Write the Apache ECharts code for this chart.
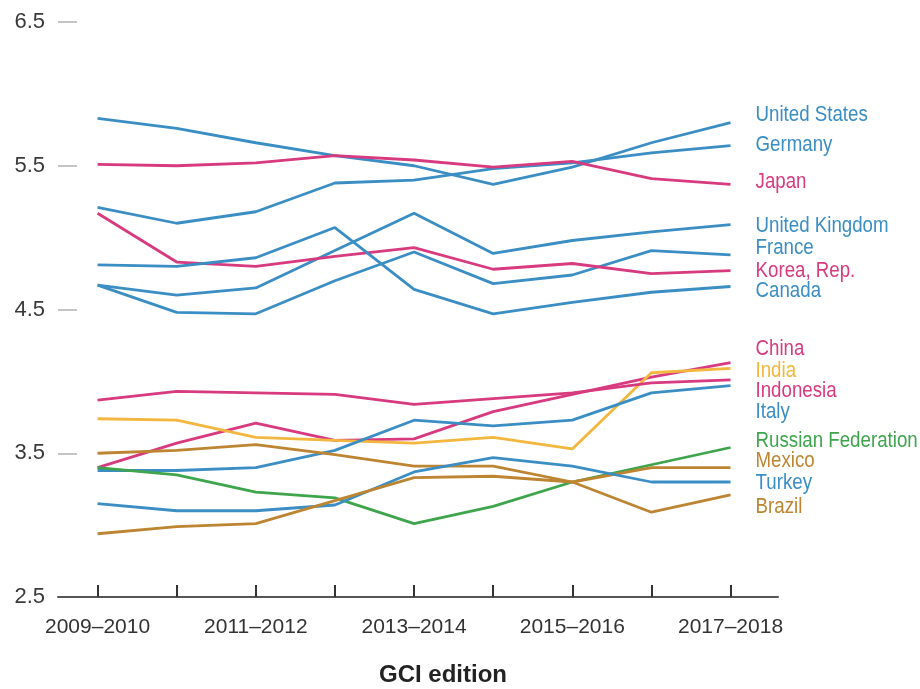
<!DOCTYPE html>
<html>
<head>
<meta charset="utf-8">
<script src="https://cdn.jsdelivr.net/npm/echarts@6/dist/echarts.min.js"></script>
<style>html,body{margin:0;padding:0;background:#fff}#c{width:920px;height:689px}</style>
</head>
<body>
<div id="c"></div>
<script>
// GCI editions (x categories)
const editions = ['2009–2010','2010–2011','2011–2012','2012–2013','2013–2014','2014–2015','2015–2016','2016–2017','2017–2018'];
const yTicks = [2.5, 3.5, 4.5, 5.5, 6.5];
const labeledEditions = [0, 2, 4, 6, 8];

// series values
const unitedStates  = [5.83, 5.76, 5.66, 5.57, 5.50, 5.37, 5.49, 5.66, 5.80];
const germany       = [5.21, 5.10, 5.18, 5.38, 5.40, 5.48, 5.52, 5.59, 5.64];
const japan         = [5.51, 5.50, 5.52, 5.57, 5.54, 5.49, 5.53, 5.41, 5.37];
const unitedKingdom = [4.67, 4.60, 4.65, 4.91, 5.17, 4.89, 4.98, 5.04, 5.09];
const france        = [4.67, 4.48, 4.47, 4.70, 4.90, 4.68, 4.74, 4.91, 4.88];
const korea         = [5.17, 4.83, 4.80, 4.87, 4.93, 4.78, 4.82, 4.75, 4.77];
const canada        = [4.81, 4.80, 4.86, 5.07, 4.64, 4.47, 4.55, 4.62, 4.66];
const china         = [3.40, 3.57, 3.71, 3.59, 3.60, 3.79, 3.91, 4.03, 4.13];
const india         = [3.74, 3.73, 3.61, 3.59, 3.57, 3.61, 3.53, 4.06, 4.09];
const indonesia     = [3.87, 3.93, 3.92, 3.91, 3.84, 3.88, 3.92, 3.99, 4.01];
const italy         = [3.38, 3.38, 3.40, 3.52, 3.73, 3.69, 3.73, 3.92, 3.97];
const russia        = [3.40, 3.35, 3.23, 3.19, 3.01, 3.13, 3.30, 3.42, 3.54];
const mexico        = [3.50, 3.52, 3.56, 3.49, 3.41, 3.41, 3.30, 3.40, 3.40];
const turkey        = [3.15, 3.10, 3.10, 3.14, 3.37, 3.47, 3.41, 3.30, 3.30];
const brazil        = [2.94, 2.99, 3.01, 3.17, 3.33, 3.34, 3.30, 3.09, 3.21];

const BLUE = '#3a8ec4', PINK = '#d83a80', YELLOW = '#f3b63e', GREEN = '#3ea54c', BROWN = '#bd8532';
const FONT = '"Liberation Sans", Arial, sans-serif';

// [name, values, color, label vertical offset (px)]
const seriesDefs = [
  ['United States', unitedStates, BLUE, -8],
  ['Germany', germany, BLUE, -1],
  ['Japan', japan, PINK, -3],
  ['United Kingdom', unitedKingdom, BLUE, 1],
  ['France', france, BLUE, -7],
  ['Korea, Rep.', korea, PINK, 0],
  ['Canada', canada, BLUE, 4],
  ['China', china, PINK, -14],
  ['India', india, YELLOW, 2],
  ['Indonesia', indonesia, PINK, 11],
  ['Italy', italy, BLUE, 26],
  ['Russian Federation', russia, GREEN, -7],
  ['Mexico', mexico, BROWN, -7],
  ['Turkey', turkey, BLUE, 1],
  ['Brazil', brazil, BROWN, 12]
];

const chart = echarts.init(document.getElementById('c'), null, {renderer: 'canvas'});
chart.setOption({
  animation: false,
  backgroundColor: '#fff',
  grid: {left: 58, right: 142, top: 22, bottom: 92, containLabel: false, outerBoundsMode: 'none'},
  xAxis: {
    type: 'value', min: -0.5, max: 8.6,
    splitLine: {show: false},
    axisLine: {show: true, onZero: false, lineStyle: {color: '#555', width: 2}},
    axisTick: {show: true, inside: true, length: 12, lineStyle: {color: '#333', width: 2}, customValues: editions.map((e, i) => i)},
    axisLabel: {
      customValues: labeledEditions, margin: 20,
      formatter: v => editions[Math.round(v)] || '',
      fontFamily: FONT, fontSize: 21, color: '#333'
    },
    name: 'GCI edition', nameLocation: 'middle', nameGap: 66,
    nameTextStyle: {fontFamily: FONT, fontSize: 24, fontWeight: 'bold', color: '#222', padding: [0, 0, 0, 50]}
  },
  yAxis: {
    type: 'value', min: 2.5, max: 6.5,
    splitLine: {show: false},
    axisLine: {show: false, onZero: false},
    axisTick: {show: true, inside: true, length: 19, customValues: [3.5, 4.5, 5.5, 6.5], lineStyle: {color: '#c4c4c4', width: 2}},
    axisLabel: {customValues: yTicks, margin: 13, formatter: v => v.toFixed(1), fontFamily: FONT, fontSize: 22, color: '#3a3a3a'}
  },
  series: seriesDefs.map(([name, vals, color]) => ({
    name, type: 'line', symbol: 'none', smooth: false,
    data: vals.map((v, i) => [i, v]),
    lineStyle: {color, width: 2.8},
    itemStyle: {color},
    z: 2
  }))
});

// series name labels at the line ends (condensed text, as in the original)
const lastIdx = editions.length - 1;
const labelGraphics = seriesDefs.map(([name, vals, color, dy]) => {
  const p = chart.convertToPixel({gridIndex: 0}, [lastIdx, vals[lastIdx]]);
  return {
    type: 'text', x: p[0] + 25, y: p[1] + dy, scaleX: 0.85,
    silent: true,
    style: {text: name, fill: color, font: '22px ' + FONT, align: 'left', verticalAlign: 'middle'}
  };
});
chart.setOption({graphic: labelGraphics});
</script>
</body>
</html>
